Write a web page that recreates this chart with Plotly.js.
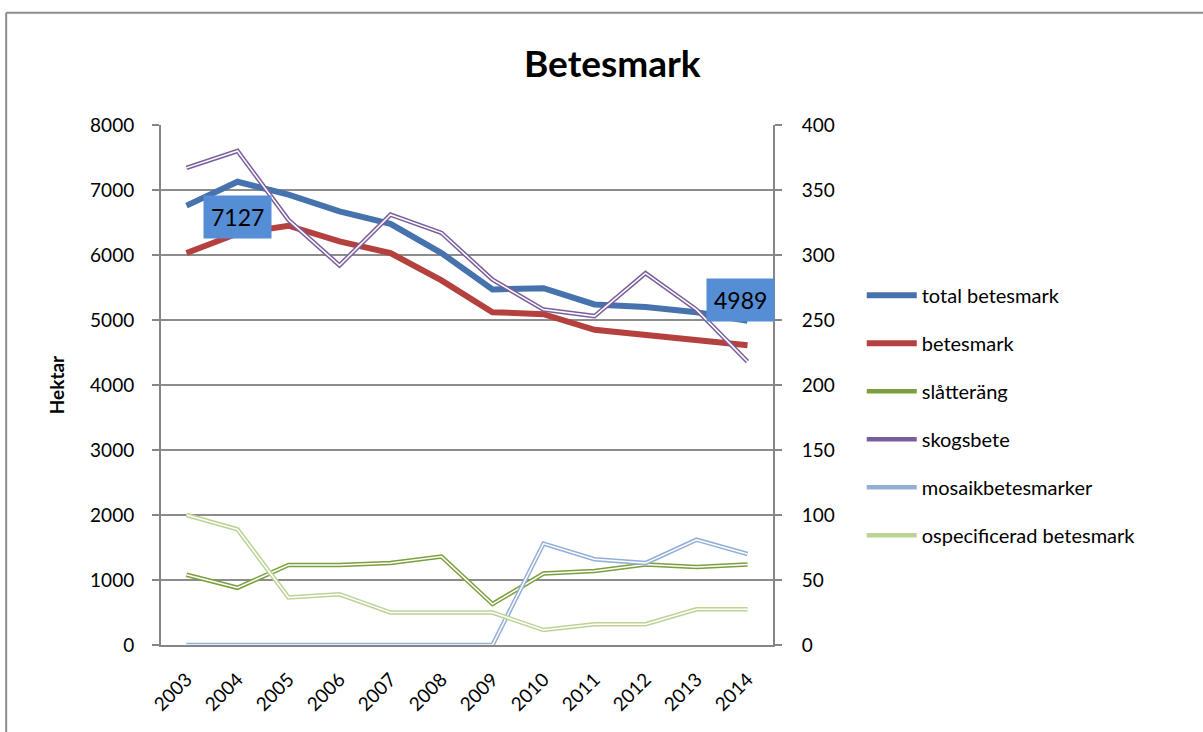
<!DOCTYPE html>
<html>
<head>
<meta charset="utf-8">
<script src="https://cdn.plot.ly/plotly-3.0.1.min.js"></script>
<style>html,body{margin:0;padding:0;background:#fff;}#chart{width:1203px;height:732px;}</style>
</head>
<body>
<div id="chart"></div>
<script>
const years = ['2003','2004','2005','2006','2007','2008','2009','2010','2011','2012','2013','2014'];
const totalBetesmark = [6760, 7127, 6930, 6670, 6480, 6030, 5470, 5490, 5240, 5200, 5120, 4989];
const betesmark = [6030, 6330, 6450, 6210, 6030, 5610, 5120, 5090, 4850, 4770, 4690, 4610];
const slatterang = [54, 44, 61.5, 61.5, 63, 68, 31.5, 55, 57, 62, 60, 62];
const skogsbete = [367, 380, 327, 292, 331, 317, 281, 258, 253, 286, 258, 218];
const mosaik = [0, 0, 0, 0, 0, 0, 0, 78, 66, 63, 81, 70];
const ospecificerad = [100, 89, 36.5, 39, 25, 25, 25, 11.5, 16, 16, 27.5, 27.5];
const names = ['total betesmark','betesmark','slåtteräng','skogsbete','mosaikbetesmarker','ospecificerad betesmark'];
const labelIdx = [1, 11];

const FONT = 'Lato, "Open Sans", sans-serif';
const cBlue = '#4673AD', cRed = '#B5413E', cGreen = '#7A9F3C', cPurple = '#7A5D9B', cLBlue = '#93AFD6', cLGreen = '#BCD398';

const traces = [];
function solid(y, name, color){
  traces.push({x: years, y: y, name: name, type:'scatter', mode:'lines', yaxis:'y', legendgroup:name,
    line:{color: color, width: 6}, hoverinfo:'skip'});
}
function dbl(y, name, color){
  traces.push({x: years, y: y, name: name, type:'scatter', mode:'lines', yaxis:'y2', legendgroup:name,
    line:{color: color, width: 4.5}, hoverinfo:'skip'});
  traces.push({x: years, y: y, name: name, type:'scatter', mode:'lines', yaxis:'y2', legendgroup:name, showlegend:false,
    line:{color: '#ffffff', width: 1.5}, hoverinfo:'skip'});
}
solid(totalBetesmark, names[0], cBlue);
solid(betesmark, names[1], cRed);
dbl(slatterang, names[2], cGreen);
dbl(skogsbete, names[3], cPurple);
dbl(mosaik, names[4], cLBlue);
dbl(ospecificerad, names[5], cLGreen);

const annotations = [
  {x: labelIdx[0], y: totalBetesmark[labelIdx[0]], xref:'x', yref:'y', text: String(totalBetesmark[labelIdx[0]]),
   showarrow:false, yshift:-35, bgcolor:'#558ED5', borderpad:7, font:{family:FONT, size:23, color:'#000'}},
  {x: labelIdx[1], y: totalBetesmark[labelIdx[1]], xref:'x', yref:'y', text: String(totalBetesmark[labelIdx[1]]),
   showarrow:false, yshift:21, xshift:-7, bgcolor:'#558ED5', borderpad:7, font:{family:FONT, size:23, color:'#000'}}
];

const layout = {
  width: 1203, height: 732,
  margin: {l:161, r:430, t:125, b:87},
  paper_bgcolor:'#ffffff', plot_bgcolor:'#ffffff',
  font: {family: FONT, size: 19, color:'#000'},
  title: {text:'<b>Betesmark</b>', font:{family:FONT, size:37, color:'#000'}, x:0.509, xanchor:'center', y:0.912, yanchor:'middle'},
  showlegend: true,
  legend: {x:1.145, xanchor:'left', y:0.71, yanchor:'top', font:{family:FONT, size:20, color:'#000'},
    tracegroupgap: 19, bgcolor:'rgba(0,0,0,0)', itemwidth:50},
  xaxis: {type:'category', tickangle:-45, showgrid:false, showline:true, linecolor:'#868686', linewidth:2,
    ticks:'', ticklabelstandoff:14, tickfont:{family:FONT, size:19}, range:[-0.5, 11.5], zeroline:false},
  yaxis: {range:[0,8000], dtick:1000, showgrid:true, gridcolor:'#8c8c8c', gridwidth:2, showline:true, linecolor:'#868686', linewidth:2,
    ticks:'outside', ticklen:7, tickcolor:'#868686', tickwidth:2, ticklabelstandoff:14, zeroline:false,
    tickfont:{family:FONT, size:19}, title:{text:'<b>Hektar</b>', font:{family:FONT, size:19}, standoff:20}},
  yaxis2: {range:[0,400], dtick:50, overlaying:'y', side:'right', showgrid:false, showline:true, linecolor:'#868686', linewidth:2,
    ticks:'outside', ticklen:7, tickcolor:'#868686', tickwidth:2, ticklabelstandoff:16, zeroline:false, tickfont:{family:FONT, size:19}},
  annotations: annotations,
  shapes: [
    {type:'line', xref:'paper', yref:'paper', x0:-0.253, x1:-0.253, y0:-0.3, y1:1.216, line:{color:'#8c8c8c', width:2}},
    {type:'line', xref:'paper', yref:'paper', x0:-0.253, x1:1.8, y0:1.216, y1:1.216, line:{color:'#8c8c8c', width:2}}
  ]
};

Plotly.newPlot('chart', traces, layout, {staticPlot:true, displayModeBar:false});
</script>
</body>
</html>
